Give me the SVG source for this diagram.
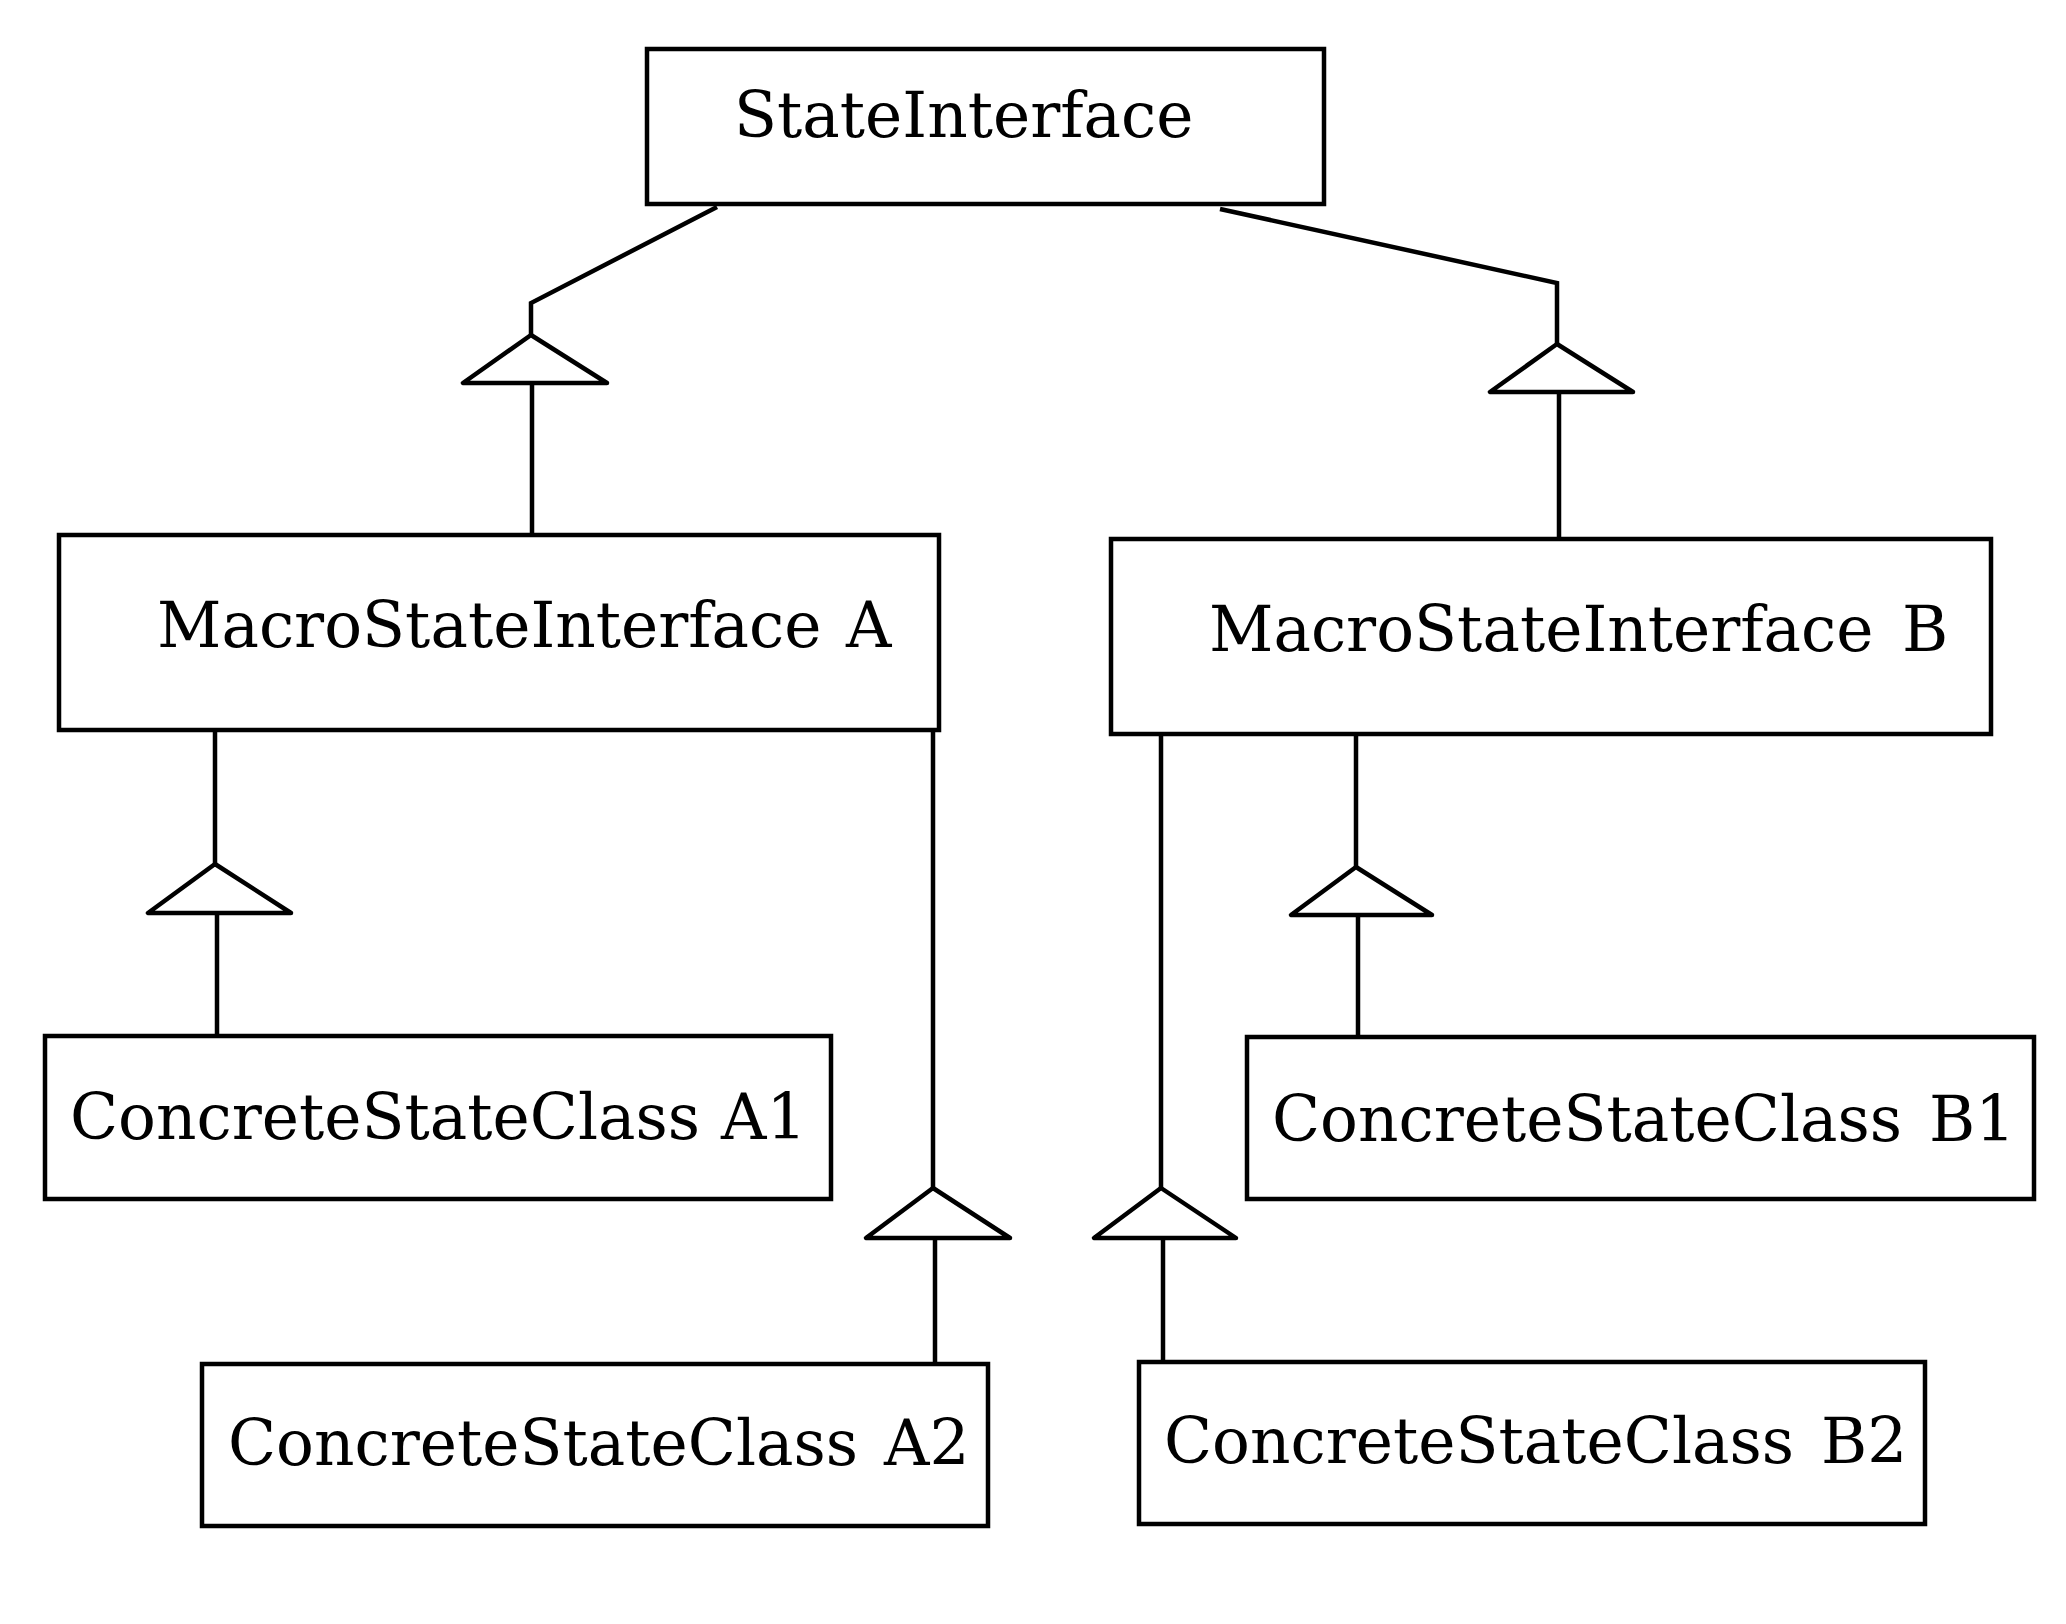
<svg xmlns="http://www.w3.org/2000/svg" width="2066" height="1624" viewBox="0 0 2066 1624">
<style>
.box{fill:#fff;stroke:#000;stroke-width:4.5}
.lbl{font-family:"DejaVu Serif","Liberation Serif",serif;font-size:62.9px;fill:#000}
.ln{fill:none;stroke:#000;stroke-width:4.5;stroke-linejoin:miter}
.tri{fill:#fff;stroke:#000;stroke-width:4.5;stroke-linejoin:round}
</style>
<rect width="2066" height="1624" fill="#fff"/>
<g id="connectors">
<polyline class="ln" points="717,207 531,303 531,335"/>
<polygon class="tri" points="531,335 463,383 607,383"/>
<line class="ln" x1="532" y1="385" x2="532" y2="533"/>
<polyline class="ln" points="1220,209 1557,283 1557,344"/>
<polygon class="tri" points="1557,344 1490,392 1633,392"/>
<line class="ln" x1="1559" y1="394" x2="1559" y2="539"/>
<line class="ln" x1="215" y1="731" x2="215" y2="864"/>
<polygon class="tri" points="215,864 148,913 291,913"/>
<line class="ln" x1="217" y1="915" x2="217" y2="1036"/>
<line class="ln" x1="933" y1="731" x2="933" y2="1188"/>
<polygon class="tri" points="933,1188 866,1238 1010,1238"/>
<line class="ln" x1="935" y1="1240" x2="935" y2="1364"/>
<line class="ln" x1="1161" y1="735" x2="1161" y2="1188"/>
<polygon class="tri" points="1161,1188 1094,1238 1236,1238"/>
<line class="ln" x1="1163" y1="1240" x2="1163" y2="1362"/>
<line class="ln" x1="1356" y1="735" x2="1356" y2="867"/>
<polygon class="tri" points="1356,867 1291,915 1432,915"/>
<line class="ln" x1="1358" y1="917" x2="1358" y2="1037"/>
</g>
<g id="StateInterface">
<rect class="box" x="647" y="49" width="677" height="155"/>
<text class="lbl" x="734" y="137">StateInterface</text>
</g>
<g id="MacroStateInterfaceA">
<rect class="box" x="59" y="535" width="880" height="195"/>
<text class="lbl" x="157" y="647">MacroStateInterface <tspan x="846">A</tspan></text>
</g>
<g id="MacroStateInterfaceB">
<rect class="box" x="1111" y="539" width="880" height="195"/>
<text class="lbl" x="1209" y="651">MacroStateInterface <tspan x="1902">B</tspan></text>
</g>
<g id="ConcreteStateClassA1">
<rect class="box" x="45" y="1036" width="786" height="163"/>
<text class="lbl" x="70" y="1139">ConcreteStateClass <tspan x="721">A1</tspan></text>
</g>
<g id="ConcreteStateClassB1">
<rect class="box" x="1247" y="1037" width="787" height="162"/>
<text class="lbl" x="1272" y="1141">ConcreteStateClass <tspan x="1929">B1</tspan></text>
</g>
<g id="ConcreteStateClassA2">
<rect class="box" x="202" y="1364" width="786" height="162"/>
<text class="lbl" x="228" y="1465">ConcreteStateClass <tspan x="884">A2</tspan></text>
</g>
<g id="ConcreteStateClassB2">
<rect class="box" x="1139" y="1362" width="786" height="162"/>
<text class="lbl" x="1164" y="1463">ConcreteStateClass <tspan x="1821">B2</tspan></text>
</g>
</svg>
